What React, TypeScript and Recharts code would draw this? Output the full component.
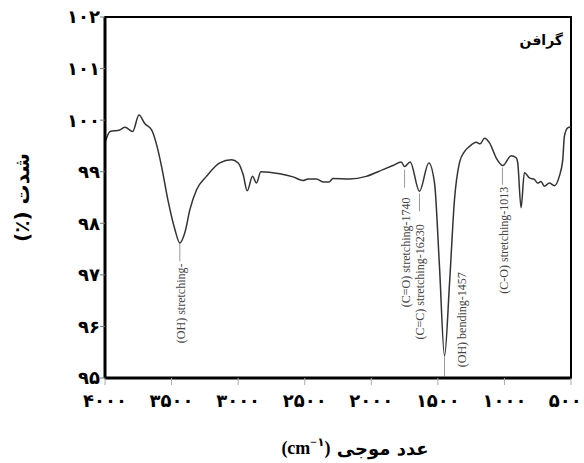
import React from "react";
import {
  LineChart,
  Line,
  XAxis,
  YAxis,
  Label,
  ReferenceLine,
  ReferenceDot,
  ReferenceArea,
} from "recharts";

// FTIR spectrum of graphene, wavenumber (cm^-1) vs transmittance (%)
const wavenumbers = [
  4000, 3962, 3888, 3850, 3792, 3745, 3700, 3650, 3612, 3575, 3528, 3475, 3438, 3400, 3362, 3312,
  3238, 3138, 3050, 3000, 2962, 2932, 2892, 2862, 2830, 2688, 2588, 2512, 2475, 2412, 2362, 2318,
  2288, 2162, 2038, 1912, 1838, 1775, 1750, 1708, 1638, 1568, 1525, 1488, 1450, 1412, 1375, 1338,
  1300, 1262, 1212, 1182, 1150, 1112, 1062, 1012, 950, 912, 900, 875, 850, 812, 775, 750, 725, 700,
  662, 625, 588, 562, 550, 525, 500,
];
const transmittance = [
  99.56, 99.78, 99.81, 99.86, 99.78, 100.1, 99.93, 99.81, 99.52, 99.1, 98.46, 97.88, 97.62, 97.82, 98.27, 98.65,
  98.91, 99.17, 99.23, 99.17, 98.94, 98.63, 98.91, 98.78, 99.0, 98.96, 98.9, 98.83, 98.86, 98.86, 98.8, 98.8,
  98.87, 98.86, 98.91, 99.04, 99.12, 99.19, 99.1, 99.19, 98.62, 99.17, 98.78, 97.17, 95.43, 96.85, 98.46, 99.17,
  99.39, 99.49, 99.57, 99.54, 99.65, 99.56, 99.27, 99.12, 99.31, 99.27, 99.17, 98.3, 98.98, 98.88, 98.85, 98.78, 98.81, 98.72,
  98.78, 98.73, 98.91, 99.23, 99.68, 99.85, 99.87,
];

const xTicks = [4000, 3500, 3000, 2500, 2000, 1500, 1000, 500];
const yTicks = [95, 96, 97, 98, 99, 100, 101, 102];

// peak assignments: leader line (wn, from -> to) and rotated caption anchored at its top end
const peakWn = [3438, 1750, 1638, 1450, 1015];
const leaderFrom = [97.62, 99.04, 98.58, 95.42, 99.08];
const leaderTo = [97.26, 98.69, 98.23, 95.03, 98.75];
const captionWn = [3430, 1742, 1632, 1322, 1000];
const captionTop = [97.22, 98.5, 97.98, 97.05, 98.71];
const captions = [
  "(OH) stretching-",
  "(C=O) stretching-1740",
  "(C=C) stretching-16230",
  "(OH) bending-1457",
  "(C-O) stretching-1013",
];

const spectrum = wavenumbers.map((wn, i) => ({ wn, t: transmittance[i] }));

const toFa = (v: number) => String(v).replace(/\d/g, (d) => "۰۱۲۳۴۵۶۷۸۹"[+d]);

const FA_FONT = "'DejaVu Sans'";
const SERIF = "'Liberation Serif', 'DejaVu Sans'";
const CHART_W = 584;

const Caption = ({ cx, cy, text }: { cx?: number; cy?: number; text: string }) => {
  if (cx == null || cy == null) return null;
  return (
    <text
      x={cx}
      y={cy}
      transform={`rotate(-90 ${cx} ${cy})`}
      textAnchor="end"
      dominantBaseline="central"
      fontFamily={SERIF}
      fontSize={12}
      fill="#444"
    >
      {text}
    </text>
  );
};

// x tick label; the last one is nudged in so it stays inside the frame
const XTick = ({ x, y, payload }: any) => {
  const label = toFa(payload.value);
  const half = label.length * 5.6;
  const cx = Math.min(x, CHART_W - 2 - half);
  return (
    <text
      x={cx}
      y={y + 14}
      textAnchor="middle"
      fontSize={18}
      fontWeight="bold"
      fontFamily={FA_FONT}
      fill="#000"
    >
      {label}
    </text>
  );
};

const App = () => {
  return (
    <div style={{ position: "absolute", left: 0, top: 0, width: CHART_W, height: 463, background: "#fff" }}>
      <LineChart width={CHART_W} height={463} data={spectrum} margin={{ top: 17, right: 13, bottom: 0, left: 0 }}>
        <XAxis
          dataKey="wn"
          type="number"
          domain={[500, 4000]}
          reversed
          ticks={xTicks}
          height={85}
          tickSize={7}
          tickMargin={8}
          axisLine={{ stroke: "#000", strokeWidth: 3 }}
          tickLine={{ stroke: "#aaa" }}
          tick={<XTick />}
        >
          <Label
            content={({ viewBox }: any) => (
              <text
                x={viewBox.x + viewBox.width / 2 + 17}
                y={viewBox.y + 70}
                textAnchor="middle"
                dominantBaseline="central"
                fontWeight="bold"
                fontSize={18}
                fontFamily={SERIF}
                fill="#000"
              >
                <tspan>(cm</tspan>
                <tspan dy={-6} fontSize={12}>−۱</tspan>
                <tspan dy={6}>)</tspan>
                <tspan fontFamily={FA_FONT}> عدد موجی</tspan>
              </text>
            )}
          />
        </XAxis>
        <YAxis
          type="number"
          domain={[95, 102]}
          ticks={yTicks}
          tickFormatter={toFa}
          width={105}
          tickSize={5}
          tickMargin={0}
          axisLine={{ stroke: "#000", strokeWidth: 3 }}
          tickLine={{ stroke: "#777" }}
          tick={{ fontSize: 18, fontWeight: "bold", fill: "#000", fontFamily: FA_FONT }}
        >
          <Label
            content={({ viewBox }: any) => {
              const cx = 22;
              const cy = viewBox.y + viewBox.height / 2;
              return (
                <text
                  x={cx}
                  y={cy}
                  transform={`rotate(-90 ${cx} ${cy})`}
                  textAnchor="middle"
                  dominantBaseline="central"
                  fontWeight="bold"
                  fontSize={20}
                  fontFamily={FA_FONT}
                  fill="#000"
                >
                  (٪) شدت
                </text>
              );
            }}
          />
        </YAxis>
        <ReferenceArea x1={4000} x2={500} y1={95} y2={102} fill="none" stroke="#000" strokeWidth={2} />
        {peakWn.map((wn, i) => (
          <ReferenceLine
            key={`l${i}`}
            segment={[
              { x: wn, y: leaderFrom[i] },
              { x: wn, y: leaderTo[i] },
            ]}
            stroke="#999"
            strokeWidth={1}
          />
        ))}
        {captions.map((text, i) => (
          <ReferenceDot
            key={`c${i}`}
            x={captionWn[i]}
            y={captionTop[i]}
            r={0}
            shape={(p: any) => <Caption cx={p.cx} cy={p.cy} text={text} />}
          />
        ))}
        <ReferenceDot
          x={560}
          y={101.55}
          r={0}
          shape={(p: any) => (
            <text
              x={p.cx}
              y={p.cy}
              textAnchor="end"
              dominantBaseline="central"
              fontWeight="bold"
              fontSize={14}
              fontFamily={FA_FONT}
              fill="#000"
            >
              گرافن
            </text>
          )}
        />
        <Line
          type="monotone"
          dataKey="t"
          stroke="#333"
          strokeWidth={1.5}
          dot={false}
          isAnimationActive={false}
        />
      </LineChart>
    </div>
  );
};

export default App;
